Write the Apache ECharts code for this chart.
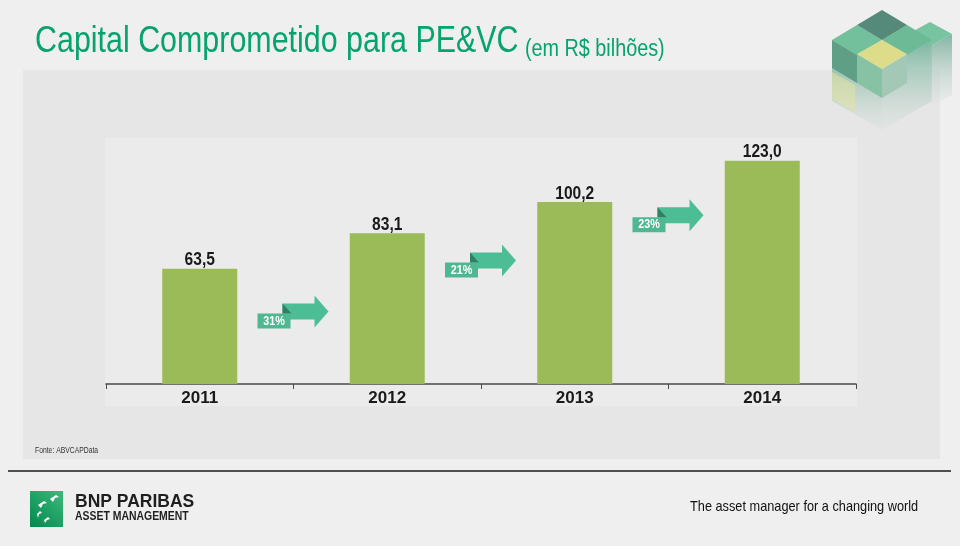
<!DOCTYPE html>
<html>
<head>
<meta charset="utf-8">
<script src="https://cdn.jsdelivr.net/npm/echarts@6/dist/echarts.min.js"></script>
<style>
  body { margin: 0; background: #efefef; }
  #chart1 { width: 960px; height: 546px; }
</style>
</head>
<body>
<div id="chart1"></div>
<script>
// DATA
var years = ['2011', '2012', '2013', '2014'];
var capital = [63.5, 83.1, 100.2, 123.0];
var growth = ['31%', '21%', '23%'];

var barColor = '#9bbb59';
var arrowColor = '#4dbd95';
var sans = '"Liberation Sans", Arial, sans-serif';

// arrow heights (value units), arrows sit at the category boundaries
var arrowLevel = [40, 68, 93];

var chartDom1 = document.getElementById('chart1');
var myChart1 = echarts.init(chartDom1);

function fmt(v) {
  return v.toFixed(1).replace('.', ',');
}

function renderArrow(params, api) {
  var p = api.coord([api.value(0), api.value(1)]);
  var half = api.size([1, 0])[0] / 2;
  var tx = p[0] + half + 35;
  var ty = p[1];
  return {
    type: 'group',
    children: [
      { type: 'polygon', shape: { points: [[tx - 14, ty - 16], [tx, ty], [tx - 14, ty + 16]] }, style: { fill: arrowColor } },
      { type: 'rect', shape: { x: tx - 46, y: ty - 8, width: 33, height: 16 }, style: { fill: arrowColor } },
      { type: 'polygon', shape: { points: [[tx - 46, ty - 8], [tx - 37, ty + 2], [tx - 46, ty + 2]] }, style: { fill: '#2f8064' } },
      { type: 'rect', shape: { x: tx - 71, y: ty + 2, width: 33, height: 15 }, style: { fill: '#4fb893' } },
      {
        type: 'text', x: tx - 54.5, y: ty + 10, scaleX: 0.9,
        style: {
          text: growth[params.dataIndex],
          fill: '#ffffff', font: 'bold 12px ' + sans, align: 'center', verticalAlign: 'middle'
        }
      }
    ]
  };
}

// value labels on top of the bars, condensed
function renderValue(params, api) {
  var p = api.coord([api.value(0), api.value(1)]);
  return {
    type: 'text', x: p[0], y: p[1] + 1, scaleX: 0.82,
    style: {
      text: fmt(api.value(1)), fill: '#1a1a1a',
      font: 'bold 19px ' + sans, align: 'center', verticalAlign: 'bottom'
    }
  };
}

var option1 = {
  backgroundColor: '#efefef',
  animation: false,
  grid: { left: 106, right: 104, top: 148, bottom: 162 },
  xAxis: {
    type: 'category',
    data: years,
    axisLine: { lineStyle: { color: '#4a4a4a', width: 1.5 } },
    axisTick: { show: true, length: 5, lineStyle: { color: '#4a4a4a' } },
    axisLabel: {
      margin: 6,
      color: '#1a1a1a',
      fontSize: 17,
      fontWeight: 'bold',
      fontFamily: sans
    }
  },
  yAxis: {
    type: 'value',
    min: 0,
    max: 130,
    show: false,
    splitLine: { show: false }
  },
  graphic: [
    { type: 'rect', z: -10, shape: { x: 23, y: 70, width: 917, height: 389 }, style: { fill: '#e6e6e6' } },
    { type: 'rect', z: -9, shape: { x: 105, y: 138, width: 752, height: 268 }, style: { fill: '#ebebeb' } },
    {
      type: 'text', x: 35, y: 60, scaleX: 0.845,
      style: { text: 'Capital Comprometido para PE&VC', fill: '#06a36c', font: '36px ' + sans, verticalAlign: 'bottom' }
    },
    {
      type: 'text', x: 525, y: 61, scaleX: 0.86,
      style: { text: '(em R$ bilhões)', fill: '#06a36c', font: '23px ' + sans, verticalAlign: 'bottom' }
    },
    // cube logo
    {
      type: 'group', z: -5,
      children: [
        { type: 'polygon', shape: { points: [[832, 40], [882, 69], [882, 130], [832, 101]] },
          style: { fill: new echarts.graphic.LinearGradient(0, 0, 0, 1, [{ offset: 0, color: '#5fa88b' }, { offset: 1, color: 'rgba(215,222,218,0.3)' }]) } },
        { type: 'polygon', shape: { points: [[882, 69], [932, 40], [932, 101], [882, 130]] },
          style: { fill: new echarts.graphic.LinearGradient(0, 0, 0, 1, [{ offset: 0, color: '#7ab59f' }, { offset: 1, color: 'rgba(215,222,218,0.3)' }]) } },
        { type: 'polygon', shape: { points: [[930, 46], [952, 34], [952, 95], [930, 107]] },
          style: { fill: new echarts.graphic.LinearGradient(0, 0, 0, 1, [{ offset: 0, color: '#83b4a2' }, { offset: 1, color: 'rgba(225,228,226,0.3)' }]) } },
        { type: 'polygon', shape: { points: [[930, 22], [952, 34], [930, 46], [908, 34]] }, style: { fill: '#78c3a0' } },
        { type: 'polygon', shape: { points: [[832, 72], [855, 85], [855, 112], [832, 99]] }, style: { fill: 'rgba(228,228,160,0.55)' } },
        { type: 'polygon', shape: { points: [[832, 40], [857, 55], [857, 83], [832, 68]] }, style: { fill: '#5e9f86' } },
        { type: 'polygon', shape: { points: [[857, 54], [882, 69], [882, 98], [857, 83]] }, style: { fill: '#86c2a3' } },
        { type: 'polygon', shape: { points: [[882, 69], [907, 54], [907, 83], [882, 98]] }, style: { fill: '#a3c8b5' } },
        { type: 'polygon', shape: { points: [[857, 25], [882, 40], [857, 55], [832, 40]] }, style: { fill: '#72c09c' } },
        { type: 'polygon', shape: { points: [[907, 25], [932, 40], [907, 55], [882, 40]] }, style: { fill: '#6dba97' } },
        { type: 'polygon', shape: { points: [[882, 10], [907, 25], [882, 40], [857, 25]] }, style: { fill: '#558a7a' } },
        { type: 'polygon', shape: { points: [[882, 40], [907, 54], [882, 69], [857, 54]] }, style: { fill: '#dcdc8a' } }
      ]
    },
    {
      type: 'text', x: 35, y: 451, scaleX: 0.8,
      style: { text: 'Fonte: ABVCAPData', fill: '#333333', font: '8.5px ' + sans, verticalAlign: 'middle' }
    },
    { type: 'line', shape: { x1: 8, y1: 471, x2: 951, y2: 471 }, style: { stroke: '#4f4f4f', lineWidth: 2 } },
    // BNP Paribas logo
    {
      type: 'rect', shape: { x: 30, y: 491, width: 33, height: 36 },
      style: { fill: new echarts.graphic.LinearGradient(1, 0, 0, 1, [{ offset: 0, color: '#3fb97a' }, { offset: 1, color: '#00894f' }]) }
    },
    {
      type: 'group',
      children: [
        { type: 'polygon', shape: { points: [[50, 499], [56, 495], [59, 497], [55, 498], [53, 502]] }, style: { fill: '#ffffff' } },
        { type: 'polygon', shape: { points: [[38, 505], [44, 501], [47, 503], [43, 504], [41, 508]] }, style: { fill: '#ffffff' } },
        { type: 'polygon', shape: { points: [[37, 514], [40, 511], [42, 513], [39, 514], [38, 518]] }, style: { fill: '#ffffff' } },
        { type: 'polygon', shape: { points: [[44, 520], [48, 517], [50, 519], [47, 520], [45, 523]] }, style: { fill: '#ffffff' } }
      ]
    },
    {
      type: 'text', x: 75, y: 502,
      style: { text: 'BNP PARIBAS', fill: '#1f1f1f', font: 'bold 17.5px ' + sans, verticalAlign: 'middle' }
    },
    {
      type: 'text', x: 75, y: 516.5, scaleX: 0.87,
      style: { text: 'ASSET MANAGEMENT', fill: '#1f1f1f', font: 'bold 12px ' + sans, verticalAlign: 'middle' }
    },
    {
      type: 'text', x: 690, y: 507, scaleX: 0.85,
      style: { text: 'The asset manager for a changing world', fill: '#111111', font: '15px ' + sans, verticalAlign: 'middle' }
    }
  ],
  series: [
    {
      type: 'bar',
      data: capital,
      barWidth: 75,
      itemStyle: { color: barColor },
      z: 2
    },
    {
      type: 'custom',
      renderItem: renderValue,
      data: capital.map(function (v, i) { return [i, v]; }),
      clip: false,
      z: 4
    },
    {
      type: 'custom',
      renderItem: renderArrow,
      data: growth.map(function (g, i) { return [i, arrowLevel[i]]; }),
      clip: false,
      z: 5
    }
  ]
};

myChart1.setOption(option1);
</script>
</body>
</html>
